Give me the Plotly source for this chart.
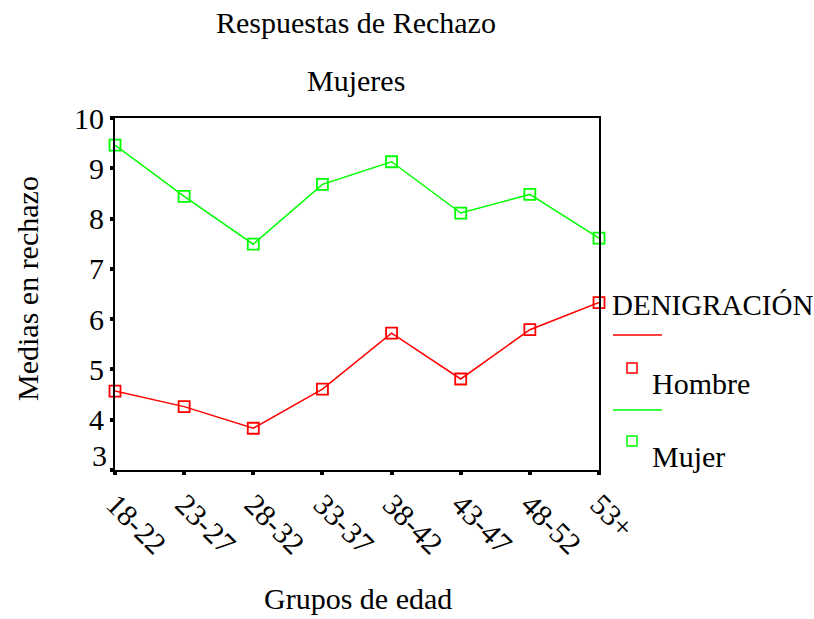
import plotly.graph_objects as go

grupos = ["18-22", "23-27", "28-32", "33-37", "38-42", "43-47", "48-52", "53+"]
hombre = [4.57, 4.26, 3.83, 4.61, 5.72, 4.81, 5.79, 6.33]
mujer = [9.46, 8.44, 7.49, 8.68, 9.13, 8.11, 8.48, 7.61]
y_ticks = [3, 4, 5, 6, 7, 8, 9, 10]

FONT = "Liberation Serif"
RED = "#ff0000"
GREEN = "#00ff00"
FS = 30

fig = go.Figure()
xs = list(range(len(grupos)))
fig.add_trace(go.Scatter(x=xs, y=hombre, mode="lines+markers", name="Hombre",
                         line=dict(color=RED, width=1.5),
                         marker=dict(symbol="square-open", size=11, color=RED, line=dict(width=1.8)),
                         cliponaxis=False, showlegend=False))
fig.add_trace(go.Scatter(x=xs, y=mujer, mode="lines+markers", name="Mujer",
                         line=dict(color=GREEN, width=1.5),
                         marker=dict(symbol="square-open", size=11, color=GREEN, line=dict(width=1.8)),
                         cliponaxis=False, showlegend=False))

L, R, T, B = 115, 215, 118, 149
W, H = 814, 619

fig.update_layout(
    width=W, height=H,
    margin=dict(l=L, r=R, t=T, b=B),
    paper_bgcolor="white", plot_bgcolor="white",
    font=dict(family=FONT, color="black"),
    showlegend=False,
)
fig.update_xaxes(range=[0, 7], tickvals=xs, ticktext=grupos, tickangle=45,
                 showline=True, linecolor="black", linewidth=2, mirror=True,
                 ticks="outside", ticklen=3, tickwidth=4, tickcolor="black",
                 showgrid=False, zeroline=False, tickfont=dict(size=FS, family=FONT))
# lowest label ("3") is drawn raised above its tick, as in the reference
y_text = ["" if v == y_ticks[0] else str(v) for v in y_ticks]
fig.update_yaxes(range=[3, 10], tickvals=y_ticks, ticktext=y_text,
                 showline=True, linecolor="black", linewidth=2, mirror=True,
                 ticks="outside", ticklen=3, tickwidth=4, tickcolor="black",
                 showgrid=False, zeroline=False, tickfont=dict(size=FS, family=FONT))

def px(x):
    return (x - L) / (W - L - R)

def py(y):
    return 1 - (y - T) / (H - T - B)

ann = []
ann.append(dict(text="Respuestas de Rechazo", x=356, y=22))
ann.append(dict(text="Mujeres", x=356, y=80))
ann.append(dict(text="Grupos de edad", x=358, y=598))
annotations = []
for a in ann:
    annotations.append(dict(text=a["text"], xref="paper", yref="paper",
                            x=px(a["x"]), y=py(a["y"]), xanchor="center", yanchor="middle",
                            showarrow=False, font=dict(size=FS, family=FONT)))
annotations.append(dict(text=str(y_ticks[0]), xref="x domain", yref="y",
                        x=0, y=y_ticks[0], xanchor="right", yanchor="middle",
                        xshift=-6, yshift=15, showarrow=False,
                        font=dict(size=FS, family=FONT)))
annotations.append(dict(text="Medias en rechazo", xref="paper", yref="paper",
                        x=px(27), y=py(289), xanchor="center", yanchor="middle",
                        textangle=-90, showarrow=False, font=dict(size=FS, family=FONT)))
# legend block
annotations.append(dict(text="DENIGRACIÓN", xref="paper", yref="paper",
                        x=px(610), y=py(305), xanchor="left", yanchor="middle",
                        showarrow=False, font=dict(size=29, family=FONT)))
annotations.append(dict(text="Hombre", xref="paper", yref="paper",
                        x=px(650), y=py(383), xanchor="left", yanchor="middle",
                        showarrow=False, font=dict(size=FS, family=FONT)))
annotations.append(dict(text="Mujer", xref="paper", yref="paper",
                        x=px(650), y=py(456), xanchor="left", yanchor="middle",
                        showarrow=False, font=dict(size=FS, family=FONT)))
fig.update_layout(annotations=annotations)

shapes = []
for yline, col in [(335, RED), (410, GREEN)]:
    shapes.append(dict(type="line", xref="paper", yref="paper",
                       x0=px(613), x1=px(662), y0=py(yline), y1=py(yline),
                       line=dict(color=col, width=1.5)))
for ym, col in [(368, RED), (441, GREEN)]:
    shapes.append(dict(type="rect", xref="paper", yref="paper",
                       x0=px(627), x1=px(637), y0=py(ym - 5), y1=py(ym + 5),
                       line=dict(color=col, width=1.5)))
fig.update_layout(shapes=shapes)

fig.write_html("out.html", config={"displayModeBar": False},
               post_script="document.body.style.margin='0';document.body.style.overflow='hidden';")
